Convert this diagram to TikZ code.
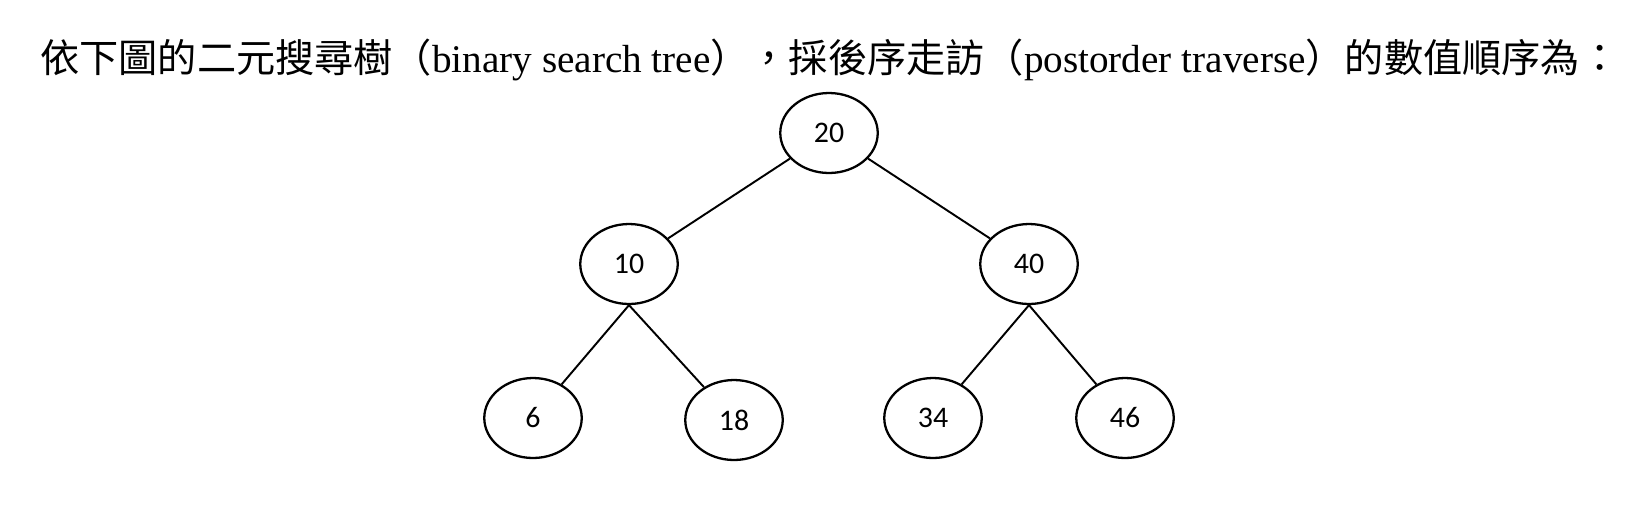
\documentclass[tikz,border=0pt]{standalone}
\usepackage{fontspec}
\setmainfont{Liberation Serif}
\newfontfamily\cjk{Noto Sans CJK TC}
\newfontfamily\numfont{Carlito}
\usetikzlibrary{positioning,shapes.geometric}
\tikzset{
  bstnode/.style={draw,line width=1.3pt,ellipse,minimum width=1.95cm,minimum height=1.6cm,inner sep=0pt,font=\numfont\fontsize{17}{17}\selectfont},
  bstedge/.style={draw,line width=1.1pt}
}
\begin{document}
\begin{tikzpicture}[x=0.02cm,y=-0.02cm]
\useasboundingbox (0,0) rectangle (1645,528);
\node (title) [anchor=west,inner sep=0pt,font=\fontsize{22.3}{22.3}\selectfont] at (40,60)
  {{\cjk 依下圖的二元搜尋樹（}binary search tree{\cjk ），採後序走訪（}postorder traverse{\cjk ）的數值順序為：}};

\node (n20) [bstnode] at (829,133) {20};
\node (n10) [bstnode] at (629,264) {10};
\node (n40) [bstnode] at (1029,264) {40};
\node (n6) [bstnode] at (533,418) {6};
\node (n18) [bstnode] at (734,420) {18};
\node (n34) [bstnode] at (933,418) {34};
\node (n46) [bstnode] at (1125,418) {46};

\draw[bstedge] (n20) -- (n10);
\draw[bstedge] (n20) -- (n40);
\draw[bstedge] (n10.south) -- (n6);
\draw[bstedge] (n10.south) -- (n18);
\draw[bstedge] (n40.south) -- (n34);
\draw[bstedge] (n40.south) -- (n46);
\end{tikzpicture}
\end{document}
